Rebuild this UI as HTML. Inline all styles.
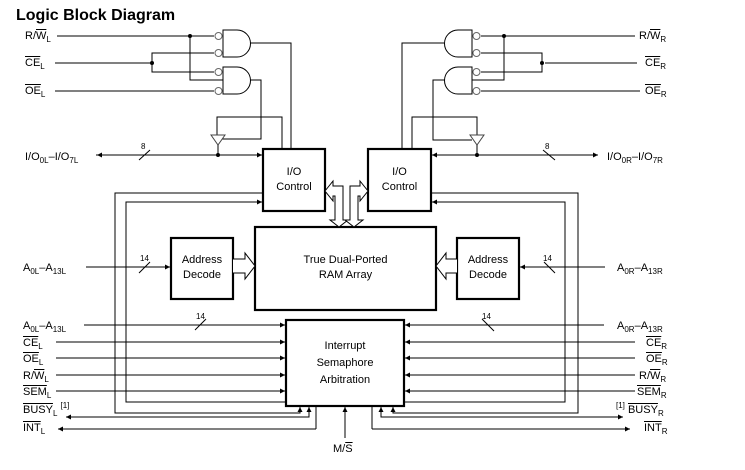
<!DOCTYPE html>
<html><head><meta charset="utf-8"><style>
html,body{margin:0;padding:0;background:#fff;}
#w{position:relative;width:745px;height:470px;overflow:hidden;font-family:"Liberation Sans",sans-serif;color:#000;}
.t{position:absolute;font-size:11px;line-height:12px;white-space:nowrap;}
.t sub{font-size:8px;vertical-align:-3px;line-height:0;}
.t sup{font-size:8px;vertical-align:5px;line-height:0;}
.o{text-decoration:overline;}
.c{position:absolute;font-size:11px;line-height:15px;text-align:center;}
svg{position:absolute;left:0;top:0;}
</style></head><body><div id="w">
<svg width="745" height="470" viewBox="0 0 745 470">
<defs>
<marker id="a" markerWidth="6" markerHeight="6" refX="5" refY="3" orient="auto" markerUnits="userSpaceOnUse"><path d="M0,0.5 L5,3 L0,5.5z" fill="#000"/></marker>
</defs>
<g stroke="#000" stroke-width="1" fill="none">
<line x1="57" y1="36" x2="214" y2="36"/>
<line x1="55" y1="63" x2="152" y2="63"/>
<polyline points="214,53 152,53 152,72 214,72"/>
<line x1="55" y1="91" x2="214" y2="91"/>
<polyline points="190,36 190,80 223,80"/>
<path d="M223,30 H237 A13.5,13.5 0 0 1 237,57 H223 Z"/>
<path d="M223,67 H237 A13.5,13.5 0 0 1 237,94 H223 Z"/>
<circle cx="218.5" cy="36" r="3.5" stroke="#666"/><circle cx="218.5" cy="53" r="3.5" stroke="#666"/>
<circle cx="218.5" cy="72" r="3.5" stroke="#666"/><circle cx="218.5" cy="91" r="3.5" stroke="#666"/>
<polyline points="250,43 291,43 291,149"/>
<polyline points="250,80 261,80 261,139 222,139"/>
<polyline points="217,135 217,117 282,117 282,149"/>
<path d="M211,135 H225 L218,145 Z" stroke="#444"/>
<line x1="218" y1="145" x2="218" y2="155"/>
<line x1="96" y1="155" x2="262" y2="155" marker-end="url(#a)"/>
<line x1="140" y1="155" x2="97" y2="155" marker-end="url(#a)"/>
<line x1="139" y1="160" x2="150" y2="150"/>
<line x1="481" y1="36" x2="635" y2="36"/>
<line x1="545" y1="63" x2="637" y2="63"/>
<polyline points="481,53 542,53 542,72 481,72"/>
<line x1="481" y1="91" x2="640" y2="91"/>
<polyline points="504,36 504,80 472,80"/>
<path d="M472,30 H458 A13.5,13.5 0 0 0 458,57 H472 Z"/>
<path d="M472,67 H458 A13.5,13.5 0 0 0 458,94 H472 Z"/>
<circle cx="476.5" cy="36" r="3.5" stroke="#666"/><circle cx="476.5" cy="53" r="3.5" stroke="#666"/>
<circle cx="476.5" cy="72" r="3.5" stroke="#666"/><circle cx="476.5" cy="91" r="3.5" stroke="#666"/>
<polyline points="444,43 402,43 402,149"/>
<polyline points="445,80 433,80 433,140 472,140"/>
<polyline points="477,135 477,117 412,117 412,149"/>
<path d="M470,135 H484 L477,145 Z" stroke="#444"/>
<line x1="477" y1="145" x2="477" y2="155"/>
<line x1="460" y1="155" x2="598" y2="155" marker-end="url(#a)"/>
<line x1="460" y1="155" x2="432" y2="155" marker-end="url(#a)"/>
<line x1="543" y1="150" x2="555" y2="160"/>
<g stroke-width="2.2">
<rect x="263" y="149" width="62" height="62"/>
<rect x="368" y="149" width="63" height="62"/>
<rect x="255" y="227" width="181" height="83"/>
<rect x="171" y="238" width="62" height="61"/>
<rect x="457" y="238" width="62" height="61"/>
<rect x="286" y="320" width="118" height="86"/>
</g>
<path d="M233,259 H245 V253 L255,266 L245,279 V273 H233" fill="#fff"/>
<path d="M457,259 H446 V253 L436,266 L446,279 V273 H457" fill="#fff"/>
<path d="M325,191 L333,181 V186 H343 V220 H348 L339,227 L330,220 H335 V196 H333 V201 Z" fill="#fff"/>
<path d="M368,191 L360,181 V186 H350 V220 H345 L354,227 L363,220 H358 V196 H360 V201 Z" fill="#fff"/>
<line x1="86" y1="267" x2="170" y2="267" marker-end="url(#a)"/>
<line x1="139" y1="273" x2="150" y2="262"/>
<line x1="605" y1="267" x2="520" y2="267" marker-end="url(#a)"/>
<line x1="544" y1="262" x2="555" y2="273"/>
<polyline points="263,193 115,193 115,413 300,413 300,407" marker-end="url(#a)"/>
<polyline points="286,402 126,402 126,202 262,202" marker-end="url(#a)"/>
<polyline points="431,193 578,193 578,413 393,413 393,407" marker-end="url(#a)"/>
<polyline points="404,402 565,402 565,202 432,202" marker-end="url(#a)"/>
<line x1="84" y1="325" x2="285" y2="325" marker-end="url(#a)"/>
<line x1="195" y1="330" x2="206" y2="319"/>
<line x1="56" y1="342" x2="285" y2="342" marker-end="url(#a)"/>
<line x1="56" y1="358" x2="285" y2="358" marker-end="url(#a)"/>
<line x1="56" y1="375" x2="285" y2="375" marker-end="url(#a)"/>
<line x1="56" y1="391" x2="285" y2="391" marker-end="url(#a)"/>
<polyline points="67,417 309,417 309,407" marker-end="url(#a)"/>
<line x1="80" y1="417" x2="66" y2="417" marker-end="url(#a)"/>
<line x1="316" y1="407" x2="316" y2="429"/>
<line x1="316" y1="429" x2="58" y2="429" marker-end="url(#a)"/>
<line x1="345" y1="438" x2="345" y2="407" marker-end="url(#a)"/>
<line x1="604" y1="325" x2="405" y2="325" marker-end="url(#a)"/>
<line x1="482" y1="319" x2="494" y2="331"/>
<line x1="635" y1="342" x2="405" y2="342" marker-end="url(#a)"/>
<line x1="635" y1="358" x2="405" y2="358" marker-end="url(#a)"/>
<line x1="635" y1="375" x2="405" y2="375" marker-end="url(#a)"/>
<line x1="635" y1="391" x2="405" y2="391" marker-end="url(#a)"/>
<polyline points="622,417 381,417 381,407" marker-end="url(#a)"/>
<line x1="600" y1="417" x2="623" y2="417" marker-end="url(#a)"/>
<line x1="372" y1="407" x2="372" y2="429"/>
<line x1="372" y1="429" x2="630" y2="429" marker-end="url(#a)"/>
</g>
<g fill="#000">
<circle cx="190" cy="36" r="2"/><circle cx="152" cy="63" r="2"/><circle cx="218" cy="155" r="2"/>
<circle cx="504" cy="36" r="2"/><circle cx="542" cy="63" r="2"/><circle cx="477" cy="155" r="2"/>
</g>
</svg>
<div class="t" style="left:16px;top:6px;font-size:16px;font-weight:bold;line-height:19px;">Logic Block Diagram</div>
<div class="t" style="left:25px;top:30px;">R/<span class="o">W</span><sub>L</sub></div>
<div class="t" style="left:25px;top:57px;"><span class="o">CE</span><sub>L</sub></div>
<div class="t" style="left:25px;top:85px;"><span class="o">OE</span><sub>L</sub></div>
<div class="t" style="left:25px;top:151px;">I/O<sub>0L</sub>–I/O<sub>7L</sub></div>
<div class="t" style="left:141px;top:141px;font-size:8px;">8</div>
<div class="t" style="left:545px;top:141px;font-size:8px;">8</div>
<div class="t" style="left:140px;top:253px;font-size:8px;">14</div>
<div class="t" style="left:543px;top:253px;font-size:8px;">14</div>
<div class="t" style="left:196px;top:311px;font-size:8px;">14</div>
<div class="t" style="left:482px;top:311px;font-size:8px;">14</div>
<div class="t" style="left:639px;top:30px;">R/<span class="o">W</span><sub>R</sub></div>
<div class="t" style="left:645px;top:57px;"><span class="o">CE</span><sub>R</sub></div>
<div class="t" style="left:645px;top:85px;"><span class="o">OE</span><sub>R</sub></div>
<div class="t" style="left:607px;top:151px;">I/O<sub>0R</sub>–I/O<sub>7R</sub></div>
<div class="t" style="left:23px;top:262px;">A<sub>0L</sub>–A<sub>13L</sub></div>
<div class="t" style="left:617px;top:262px;">A<sub>0R</sub>–A<sub>13R</sub></div>
<div class="c" style="left:263px;top:165px;width:62px;">I/O<br>Control</div>
<div class="c" style="left:368px;top:165px;width:63px;">I/O<br>Control</div>
<div class="c" style="left:255px;top:253px;width:181px;">True Dual-Ported<br>RAM Array</div>
<div class="c" style="left:171px;top:253px;width:62px;">Address<br>Decode</div>
<div class="c" style="left:457px;top:253px;width:62px;">Address<br>Decode</div>
<div class="c" style="left:286px;top:338px;width:118px;line-height:17px;">Interrupt<br>Semaphore<br>Arbitration</div>
<div class="t" style="left:23px;top:320px;">A<sub>0L</sub>–A<sub>13L</sub></div>
<div class="t" style="left:23px;top:337px;"><span class="o">CE</span><sub>L</sub></div>
<div class="t" style="left:23px;top:353px;"><span class="o">OE</span><sub>L</sub></div>
<div class="t" style="left:23px;top:370px;">R/<span class="o">W</span><sub>L</sub></div>
<div class="t" style="left:23px;top:386px;"><span class="o">SEM</span><sub>L</sub></div>
<div class="t" style="left:23px;top:404px;"><span class="o">BUSY</span><sub>L</sub> <sup>[1]</sup></div>
<div class="t" style="left:23px;top:422px;"><span class="o">INT</span><sub>L</sub></div>
<div class="t" style="left:617px;top:320px;">A<sub>0R</sub>–A<sub>13R</sub></div>
<div class="t" style="left:646px;top:337px;"><span class="o">CE</span><sub>R</sub></div>
<div class="t" style="left:646px;top:353px;"><span class="o">OE</span><sub>R</sub></div>
<div class="t" style="left:639px;top:370px;">R/<span class="o">W</span><sub>R</sub></div>
<div class="t" style="left:637px;top:386px;"><span class="o">SEM</span><sub>R</sub></div>
<div class="t" style="left:616px;top:404px;"><sup>[1]</sup> <span class="o">BUSY</span><sub>R</sub></div>
<div class="t" style="left:644px;top:422px;"><span class="o">INT</span><sub>R</sub></div>
<div class="t" style="left:333px;top:443px;">M/<span class="o">S</span></div>
</div></body></html>
